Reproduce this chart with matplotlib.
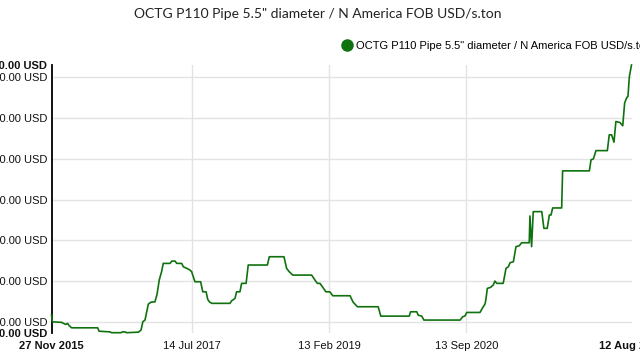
import matplotlib
matplotlib.use("Agg")
import matplotlib.pyplot as plt
from matplotlib.lines import Line2D
import pandas as pd
import numpy as np

# ---- data ----
start_date = "2015-11-27"
days_since_start = [0, 4, 43, 49, 60, 68, 74, 85, 195, 201, 247, 254, 294, 299, 310, 318, 367, 378,
                    386, 395, 402, 409, 420, 437, 446, 455, 465, 472, 501, 508, 522, 529, 550, 557,
                    571, 585, 592, 606, 630, 639, 653, 660, 667, 677, 754, 761, 775, 782, 796, 803,
                    822, 831, 912, 920, 982, 993, 1004, 1019, 1099, 1113, 1123, 1134, 1146, 1159,
                    1176, 1188, 1261, 1274, 1282, 1292, 1380, 1391, 1511, 1517, 1543, 1549, 1564,
                    1573, 1726, 1737, 1747, 1754, 1810, 1821, 1831, 1835, 1841, 1855, 1866, 1873,
                    1881, 1908, 1920, 1930, 1937, 1951, 1962, 1976, 1986, 2018, 2021, 2028, 2035,
                    2071, 2080, 2094, 2103, 2110, 2117, 2155, 2159, 2272, 2279, 2289, 2300, 2348,
                    2356, 2366, 2376, 2384, 2401, 2413, 2421, 2430, 2435, 2441, 2450]
price_usd = [1250, 1200, 1196, 1190, 1181, 1188, 1173, 1156, 1156, 1131, 1126, 1120, 1120, 1126, 1126,
             1120, 1124, 1139, 1201, 1213, 1272, 1330, 1345, 1347, 1404, 1507, 1569, 1630, 1630, 1647,
             1647, 1630, 1630, 1605, 1594, 1581, 1569, 1495, 1495, 1421, 1421, 1365, 1347, 1336, 1336,
             1355, 1372, 1421, 1421, 1483, 1483, 1618, 1618, 1679, 1679, 1594, 1569, 1544, 1544, 1507,
             1483, 1483, 1454, 1421, 1421, 1392, 1392, 1345, 1330, 1311, 1311, 1242, 1242, 1274, 1274,
             1249, 1242, 1213, 1213, 1237, 1244, 1269, 1269, 1303, 1330, 1365, 1446, 1454, 1471, 1500,
             1483, 1483, 1594, 1605, 1635, 1642, 1753, 1760, 1782, 1782, 1979, 1753, 2011, 2011, 1888,
             1888, 1986, 1986, 2038, 2038, 2311, 2311, 2392, 2399, 2460, 2460, 2576, 2576, 2522, 2674,
             2667, 2643, 2810, 2851, 2858, 3006, 3090]
grid_values = [1200, 1500, 1800, 2100, 2400, 2700, 3000]
x_tick_dates = ["2015-11-27", "2017-07-14", "2019-02-13", "2020-09-13", "2022-08-12"]
x_tick_labels = ["27 Nov 2015", "14 Jul 2017", "13 Feb 2019", "13 Sep 2020", "12 Aug 2022"]
series_name = 'OCTG P110 Pipe 5.5" diameter / N America FOB USD/s.ton'
title = 'OCTG P110 Pipe 5.5" diameter / N America FOB USD/s.ton'

dates = pd.Timestamp(start_date) + pd.to_timedelta(days_since_start, unit="D")
tick_dates = pd.to_datetime(x_tick_dates)

plt.rcParams["font.family"] = ["Liberation Sans", "DejaVu Sans"]
GREEN = "#0f720f"
GRID = "#e3e3e3"

W, H = 640, 360
fig = plt.figure(figsize=(6.4, 3.6), dpi=100)
left, right, top, bottom = 51.5, 631.5, 65.0, 332.7
ax = fig.add_axes([left / W, 1 - bottom / H, (right - left) / W, (bottom - top) / H])

ax.plot(dates, price_usd, color=GREEN, lw=1.2, clip_on=False, zorder=3)

vmin, vmax = min(price_usd), max(price_usd)
ax.set_ylim(vmin, vmax)
ax.set_xlim(dates[0], dates[-1])

for g in grid_values:
    ax.axhline(g, color=GRID, lw=1.0, zorder=1)
for d in tick_dates[1:-1]:
    ax.axvline(d, color=GRID, lw=1.0, zorder=1)

yt = [vmin] + grid_values + [vmax]
ax.set_yticks(yt)
ax.set_yticklabels([f"{v:.2f} USD" for v in yt])
ylabels = ax.get_yticklabels()
ylabels[0].set_fontweight("bold")
ylabels[-1].set_fontweight("bold")

ax.set_xticks(tick_dates)
ax.set_xticklabels(x_tick_labels)
xlabels = ax.get_xticklabels()
xlabels[0].set_fontweight("bold")
xlabels[-1].set_fontweight("bold")

ax.tick_params(axis="y", length=0, pad=3, labelsize=8, labelcolor="#111111")
ax.tick_params(axis="x", length=0, pad=6, labelsize=8, labelcolor="#111111")

for s in ["top", "right", "bottom"]:
    ax.spines[s].set_visible(False)
ax.spines["left"].set_color("#000000")
ax.spines["left"].set_linewidth(1.3)

fig.text(318 / W, 1 - 14 / H, title, ha="center", va="center",
         fontsize=10, family=["Lato", "DejaVu Sans"], color="#222222")

handle = Line2D([], [], marker="o", color=GREEN, lw=0, markersize=8)
fig.legend([handle], [series_name], loc="center left",
           bbox_to_anchor=(341 / W, 1 - 46 / H), frameon=False, fontsize=8,
           handletextpad=0.35, handlelength=1.0, borderaxespad=0, borderpad=0)

fig.savefig("out.png", dpi=100)
